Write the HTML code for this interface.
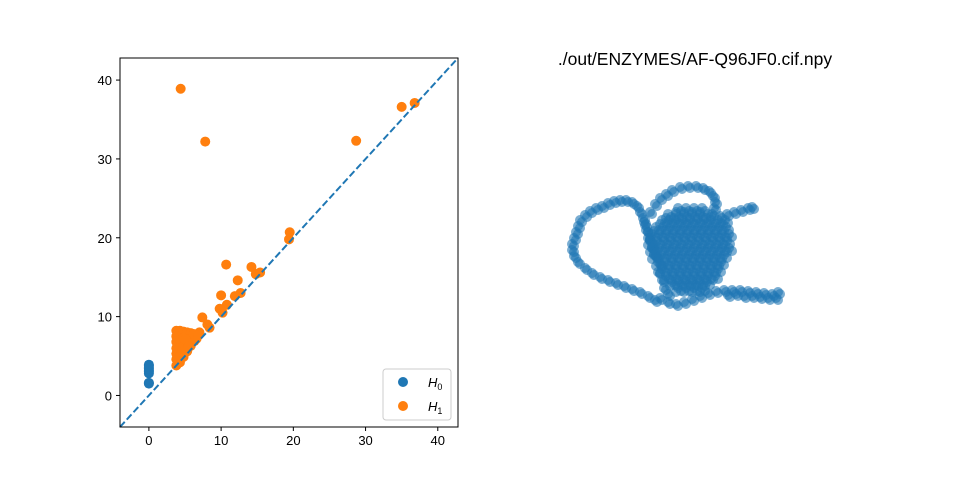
<!DOCTYPE html>
<html><head><meta charset="utf-8"><style>
body{margin:0;background:#fff}
svg{display:block;font-family:"Liberation Sans","DejaVu Sans",sans-serif}
</style></head><body>
<svg id="fig" width="960" height="480" viewBox="0 0 960 480" xmlns="http://www.w3.org/2000/svg">
<rect width="960" height="480" fill="#fff"/>
<g id="left"></g>
<g id="right"></g>
<text x="695" y="65" text-anchor="middle" font-size="17.5" fill="#000">./out/ENZYMES/AF-Q96JF0.cif.npy</text>
</svg>
<script>
const h0Deaths=[1.5,1.6,2.8,3.0,3.2,3.4,3.6,3.8,3.9];
const h1Births=[4.4,7.8,28.7,35,36.8,19.5,19.4,10.7,14.2,15.4,14.8,12.3,7.4,10,11.9,12.7,10.8,9.8,10.2,8.4,8.1,7,6.6,3.8,4.3,4.8,5.3,5.8,3.8,3.8,3.8,3.8,3.8,3.8,4.3,4.8,5.3,5.8,6.3,4.3,4.8,4.3,4.8,5.3,4.3,5.8,6.2,4.6,5.1,6.8,5.5];
const h1Deaths=[38.9,32.2,32.3,36.6,37.1,20.7,19.8,16.6,16.3,15.6,15.4,14.6,9.9,12.7,12.6,13,11.5,11,10.5,8.6,9,8,7.2,8.2,8.2,8.1,8,7.9,7.5,6.8,6,5.3,4.6,3.8,4.2,4.9,5.6,6.3,6.9,7,7.3,6,6.2,6.8,5,7.2,7.8,5.5,7.1,7.6,6.2];
const xTicks=[0,10,20,30,40];
const yTicks=[0,10,20,30,40];
// right panel: projected coordinates (arbitrary units)
const chainX=[95,88,80,72,64,56,48,40,32,25,18,14,12,12,14,16,18,20,25,30,36,42,48,54,60,66,72,77,80,83,85,88,90,95,100,106,112,120,128,136,143,149,153,155,154,152,160,167,174,181,188,192,100,108,116,124,132,140,148,156,164,172,180,188,196,204,212,218,216,208,200,192,184,176,168,90,92,96,100,98,102,104,108,84,86,88,92,94];
const chainY=[130,126,122,119,116,113,110,107,103,98,92,86,80,74,68,62,56,50,45,41,38,36,33,31,30,30,32,36,42,48,55,62,42,34,28,24,20,17,16,16,18,21,26,32,38,44,46,44,42,40,38,37,128,132,134,132,129,126,123,121,120,120,120,121,122,123,124,122,128,128,127,126,126,124,125,70,78,86,94,102,110,118,124,52,60,68,76,84];
const blobY=[38,44,50,57,64,71,78,85,92,99,106,112,118];
const blobXs=[[118,126,134,142],[108,116,124,132,140,148],[102,109,116,123,130,137,144,151,158,165],[96,103,110,117,124,131,138,145,152,159,166],[92,99,106,113,120,127,134,141,148,155,162,169],[90,97,104,111,118,125,132,139,146,153,160,167],[92,99,106,113,120,127,134,141,148,155,162,169],[94,101,108,115,122,129,136,143,150,157,164],[98,105,112,119,126,133,140,147,154,161],[102,109,116,123,130,137,144,151,158],[106,113,120,127,134,141,148,155],[112,119,126,133,140,147],[118,126,134,142]];
const NS="http://www.w3.org/2000/svg";
function mk(t,a,p){const e=document.createElementNS(NS,t);for(const k in a)e.setAttribute(k,a[k]);p.appendChild(e);return e;}
const L=document.getElementById('left');
const ax={x0:120,x1:458,y0:58,y1:427,min:-4.0,max:42.8};
const sx=v=>ax.x0+(v-ax.min)/(ax.max-ax.min)*(ax.x1-ax.x0);
const sy=v=>ax.y1-(v-ax.min)/(ax.max-ax.min)*(ax.y1-ax.y0);
h0Deaths.forEach(d=>{const c=mk('circle',{cx:sx(0),cy:sy(d),r:5,fill:'#1f77b4'},L);

});
h1Births.forEach((b,i)=>{const c=mk('circle',{cx:sx(b),cy:sy(h1Deaths[i]),r:5,fill:'#ff7f0e'},L);

});
const dl=mk('line',{x1:sx(ax.min),y1:sy(ax.min),x2:sx(ax.max),y2:sy(ax.max),stroke:'#1f77b4','stroke-width':2,'stroke-dasharray':'7,3'},L);


const fr=mk('rect',{x:ax.x0,y:ax.y0,width:ax.x1-ax.x0,height:ax.y1-ax.y0,fill:'none',stroke:'#000','stroke-width':1},L);


xTicks.forEach(t=>{mk('line',{x1:sx(t),x2:sx(t),y1:ax.y1,y2:ax.y1+4,stroke:'#000'},L);
const tx=mk('text',{x:sx(t),y:ax.y1+18,'text-anchor':'middle','font-size':13},L);tx.textContent=t;

});
yTicks.forEach(t=>{mk('line',{x1:ax.x0-4,x2:ax.x0,y1:sy(t),y2:sy(t),stroke:'#000'},L);
const tx=mk('text',{x:ax.x0-8,y:sy(t)+5,'text-anchor':'end','font-size':13},L);tx.textContent=t;

});
const lg=mk('g',{},L);


mk('rect',{x:383,y:369,width:68,height:51,rx:3,fill:'#fff','fill-opacity':0.8,stroke:'#ccc'},lg);
mk('circle',{cx:403,cy:382,r:5,fill:'#1f77b4'},lg);
mk('circle',{cx:403,cy:406,r:5,fill:'#ff7f0e'},lg);
const t0=mk('text',{x:428,y:387,'font-size':13,'font-style':'italic'},lg);t0.innerHTML='H<tspan font-size="9" dy="3" font-style="normal">0</tspan>';


const t1=mk('text',{x:428,y:411,'font-size':13,'font-style':'italic'},lg);t1.innerHTML='H<tspan font-size="9" dy="3" font-style="normal">1</tspan>';


const R=document.getElementById('right');
const px=v=>560+v, py=v=>170+v;
function dot(x,y){const c=mk('circle',{cx:px(x),cy:py(y),r:5,fill:'#1f77b4','fill-opacity':0.6},R);

}
chainX.forEach((x,i)=>{dot(x,chainY[i]);dot(x+2,chainY[i]+2);});
blobY.forEach((y,i)=>blobXs[i].forEach(x=>{dot(x,y);dot(x+3,y+3);dot(x-2,y+4);}));
</script>
</body></html>
